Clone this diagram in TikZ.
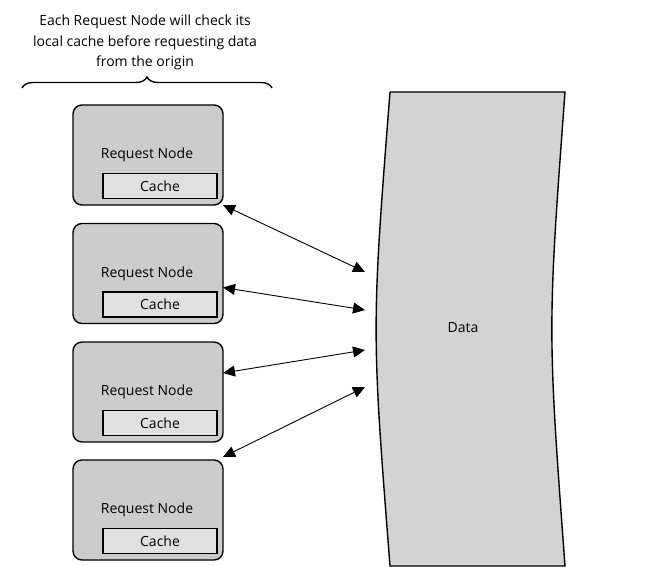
\documentclass[tikz,border=0pt]{standalone}
\usepackage{fontspec}
\setmainfont{Open Sans}
\usetikzlibrary{arrows.meta,decorations.pathreplacing,calc}
\definecolor{boxgray}{RGB}{204,204,204}
\definecolor{cachegray}{RGB}{224,224,224}
\definecolor{datagray}{RGB}{211,211,211}
\tikzset{
  reqbox/.style={draw=black, line width=1.4pt, fill=boxgray, rounded corners=9pt,
    minimum width=150pt, minimum height=100pt, anchor=north west, inner sep=0pt, outer sep=0pt},
  cachebox/.style={draw=black, line width=1.4pt, fill=cachegray,
    minimum width=114pt, minimum height=25pt, inner sep=0pt},
  lbl/.style={font=\fontsize{14}{20.5}\selectfont, inner sep=0pt},
  link/.style={line width=0.9pt, {Triangle[length=12pt,width=11pt]}-{Triangle[length=12pt,width=11pt]}},
}
\begin{document}
\begin{tikzpicture}[x=1pt,y=-1pt]
\useasboundingbox (0,0) rectangle (656,567);
% top note
\node[lbl, align=center] (note) at (145,42.5) {Each Request Node will check its\\local cache before requesting data\\from the origin};
\draw[line width=1.4pt, decorate, decoration={brace, amplitude=11pt}] (22,88) -- (272,88);
% request nodes
\foreach \i/\t in {1/105, 2/223.5, 3/342, 4/460} {
  \node[reqbox] (r\i) at (73,\t) {};
  \node[lbl] (t\i) at ($(r\i.north)+(-1,50)$) {Request Node};
  \node[cachebox, lbl] (c\i) at ($(r\i.north west)+(87,81)$) {Cache};
}
% data
\draw[line width=1.4pt, fill=datagray] (390,92) -- (565,92) .. controls (547.5,329) .. (565,566) -- (390,566) .. controls (371.5,329) .. (390,92);
\node[lbl] (data) at (463,328) {Data};
% arrow ends
\coordinate (d1) at (365,272);
\coordinate (d2) at (365,310);
\coordinate (d3) at (365,350);
\coordinate (d4) at (365,387);
\draw[link] (r1.south east) -- (d1);
\draw[link] ($(r2.north east)!0.64!(r2.south east)$) -- (d2);
\draw[link] ($(r3.north east)!0.31!(r3.south east)$) -- (d3);
\draw[link] ($(r4.north east)+(0,-3)$) -- (d4);
\end{tikzpicture}
\end{document}
